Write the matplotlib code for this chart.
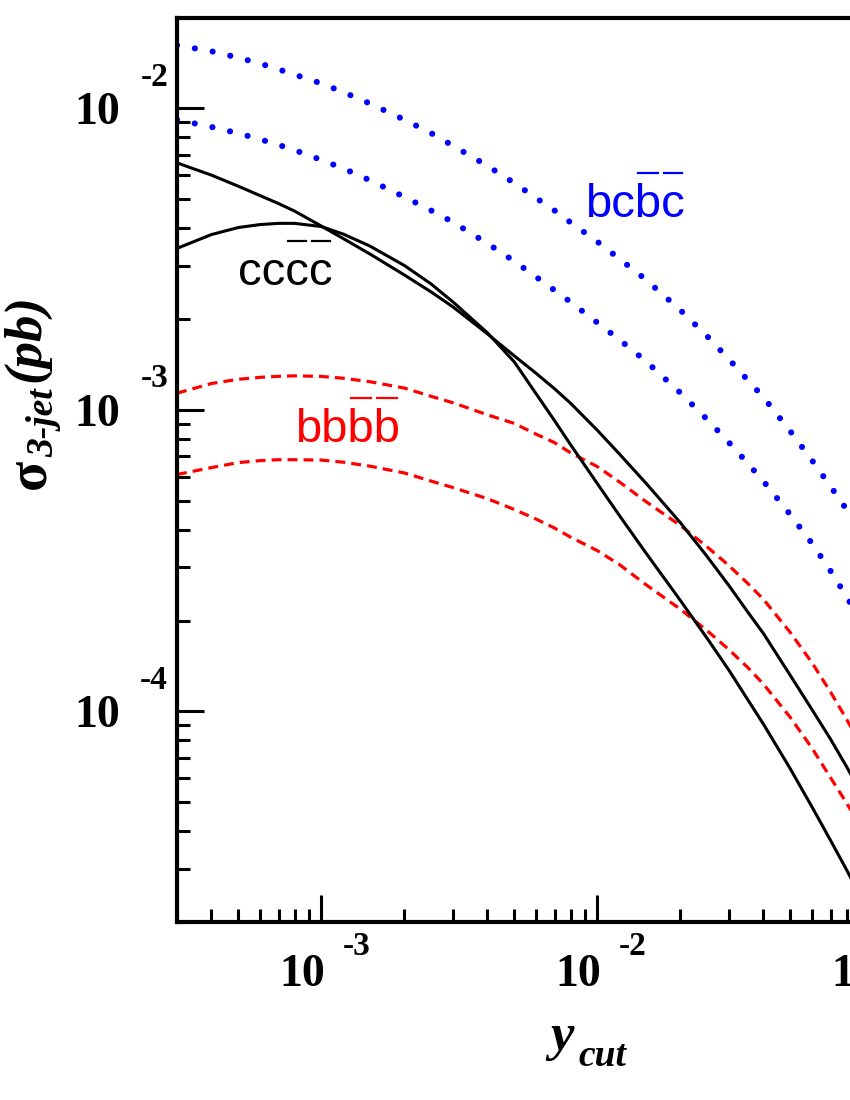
import matplotlib
matplotlib.use("Agg")
import matplotlib.pyplot as plt
from matplotlib.lines import Line2D
from matplotlib.ticker import LogLocator, NullFormatter

y_cut = [3e-4, 4e-4, 5e-4, 6e-4, 7e-4, 8e-4, 1e-3, 1.2e-3, 1.5e-3, 2e-3, 2.5e-3,
         3e-3, 4e-3, 5e-3, 6e-3, 7e-3, 8e-3, 1e-2, 1.2e-2, 1.5e-2, 2e-2, 2.5e-2,
         3e-2, 3.5e-2, 4e-2, 5e-2, 6e-2, 7e-2, 8e-2, 9e-2, 1e-1]

# sigma_3-jet (pb)
bcbc_hi = [0.01618, 0.01545, 0.01472, 0.01407, 0.01346, 0.01293, 0.01209, 0.01131,
           0.01037, 0.00916, 0.00827, 0.00751, 0.00644, 0.00565, 0.005039, 0.00458,
           0.004181, 0.00361, 0.003172, 0.00270, 0.00214, 0.001754, 0.00147, 0.001257,
           0.00110, 0.000849, 0.000679, 0.000557, 0.000467, 0.000394, 0.000336]
bcbc_lo = [0.00916, 0.00867, 0.00826, 0.00789, 0.00756, 0.007264, 0.00674, 0.006318,
           0.00577, 0.00508, 0.004581, 0.00419, 0.00356, 0.00311, 0.002758, 0.00249,
           0.002277, 0.001945, 0.001710, 0.001449, 0.001138, 0.000929, 0.000778, 0.000666,
           0.000579, 0.000449, 0.000360, 0.000292, 0.000240, 0.0002001, 0.000169]
cccc_a = [0.00659, 0.00600, 0.005515, 0.005132, 0.004829, 0.004560, 0.004067, 0.003698,
          0.003286, 0.002799, 0.002459, 0.002193, 0.001785, 0.001510, 0.001321, 0.001174,
          0.001051, 0.000855, 0.000715, 0.000571, 0.000422, 0.000326, 0.000261, 0.000214,
          0.000181, 0.0001316, 0.0001012, 0.0000808, 0.0000655, 0.0000539, 0.0000452]
cccc_b = [0.00343, 0.003812, 0.004021, 0.004114, 0.004152, 0.004152, 0.004052, 0.003827,
          0.003491, 0.003009, 0.002613, 0.002278, 0.001799, 0.001442, 0.001130, 0.000920,
          0.000766, 0.000569, 0.000447, 0.000335, 0.000233, 0.0001745, 0.0001367, 0.0001096,
          0.0000906, 0.0000645, 0.0000481, 0.0000373, 0.0000298, 0.0000242, 0.0000202]
bbbb_hi = [0.001135, 0.001222, 0.001262, 0.001281, 0.001291, 0.001296, 0.001290, 0.001272,
           0.001239, 0.001180, 0.001108, 0.001055, 0.000962, 0.000901, 0.000830, 0.000778,
           0.000720, 0.000648, 0.000577, 0.000496, 0.000413, 0.000351, 0.000304, 0.000266,
           0.000235, 0.0001826, 0.0001447, 0.0001158, 0.0000941, 0.0000777, 0.0000653]
bbbb_lo = [0.000610, 0.000643, 0.000668, 0.000678, 0.000683, 0.000683, 0.000681, 0.000670,
           0.000650, 0.000617, 0.000580, 0.000552, 0.000507, 0.000467, 0.000434, 0.000405,
           0.000378, 0.000341, 0.000307, 0.000263, 0.000218, 0.000185, 0.000160, 0.000140,
           0.000123, 0.0000955, 0.0000754, 0.0000602, 0.0000496, 0.0000416, 0.0000355]

x_decades = [-3, -2, -1]
y_decades = [-4, -3, -2]

SERIF = 'Liberation Serif'
SANS = 'Liberation Sans'
PX = 0.72  # points per pixel at dpi 100
W, H = 850.0, 1100.0


def fig_xy(px, py):
    return px / W, 1 - py / H


fig = plt.figure(figsize=(8.5, 11), dpi=100)
# right part of the frame runs off the page, as in the original
ax = fig.add_axes([177 / W, 1 - 922 / H, 828 / W, 904.5 / H])
ax.set_xscale('log')
ax.set_yscale('log')

# curves
dots = dict(color='#0000ff', lw=4.4, linestyle=(0, (0.01, 2.95)), dash_capstyle='round')
dashes = dict(color='#ff0000', lw=2.3, linestyle=(0, (3.1, 1.9)))
solid = dict(color='black', lw=2.2)
ax.plot(y_cut, bcbc_hi, **dots)
ax.plot(y_cut, bcbc_lo, **dots)
ax.plot(y_cut, bbbb_hi, **dashes)
ax.plot(y_cut, bbbb_lo, **dashes)
ax.plot(y_cut, cccc_a, **solid)
ax.plot(y_cut, cccc_b, **solid)

ax.set_xlim(3e-4, 0.3)
ax.set_ylim(2e-5, 2e-2)

for s in ax.spines.values():
    s.set_linewidth(3.0)
ax.xaxis.set_minor_locator(LogLocator(base=10, subs=range(2, 10)))
ax.yaxis.set_minor_locator(LogLocator(base=10, subs=range(2, 10)))
for a in (ax.xaxis, ax.yaxis):
    a.set_major_formatter(NullFormatter())
    a.set_minor_formatter(NullFormatter())
ax.tick_params(which='major', direction='in', length=27 * PX, width=2.2)
ax.tick_params(which='minor', direction='in', length=13 * PX, width=2.2)

# tick labels written as 10 with a raised exponent
big = dict(fontsize=33, fontweight='bold', family=SERIF, va='baseline',
           textcoords='offset points')
small = dict(fontsize=24, fontweight='bold', family=SERIF, va='baseline',
             textcoords='offset points')
for e in x_decades:
    ax.annotate('10', xy=(10.0 ** e, 0), xycoords=('data', 'axes fraction'),
                xytext=(4 * PX, -64 * PX), ha='right', **big)
    ax.annotate('-%d' % -e, xy=(10.0 ** e, 0), xycoords=('data', 'axes fraction'),
                xytext=(21 * PX, -33 * PX), ha='left', **small)
for e in y_decades:
    ax.annotate('10', xy=(0, 10.0 ** e), xycoords=('axes fraction', 'data'),
                xytext=(-57 * PX, -16 * PX), ha='right', **big)
    ax.annotate('-%d' % -e, xy=(0, 10.0 ** e), xycoords=('axes fraction', 'data'),
                xytext=(-9 * PX, 22.5 * PX), ha='right', **small)

# axis titles
rot = dict(rotation=90, rotation_mode='anchor', ha='left', va='baseline', family=SERIF)
fig.text(*fig_xy(44, 489), '\u03c3', fontsize=40, fontweight='bold', **rot)
fig.text(*fig_xy(53, 457), '3-jet', fontsize=27, fontweight='bold', style='italic', **rot)
fig.text(*fig_xy(39, 382), '(pb)', fontsize=38, fontweight='bold', style='italic', **rot)

fig.text(*fig_xy(550, 1050), 'y', fontsize=38, fontweight='bold', style='italic',
         ha='left', va='baseline', family=SERIF)
fig.text(*fig_xy(578, 1066), 'cut', fontsize=27, fontweight='bold', style='italic',
         ha='left', va='baseline', family=SERIF)

# curve labels, the last two quarks carry a bar each
renderer = fig.canvas.get_renderer()


def quark_label(px, py, s, color):
    t = fig.text(*fig_xy(px, py), s, fontsize=34, family=SANS, color=color,
                 ha='left', va='baseline')
    prop = t.get_fontproperties()
    for i in (2, 3):
        w0 = renderer.get_text_width_height_descent(s[:i], prop, ismath=False)[0]
        w1 = renderer.get_text_width_height_descent(s[:i + 1], prop, ismath=False)[0]
        x0, x1 = px + w0 + 3, px + w1 - 3
        bar_y = py - 44
        fig.add_artist(Line2D([x0 / W, x1 / W], [1 - bar_y / H, 1 - bar_y / H],
                              transform=fig.transFigure, color=color, lw=1.6))


quark_label(238, 285, 'cccc', 'black')
quark_label(585, 217, 'bcbc', '#0000ff')
quark_label(295, 442, 'bbbb', '#ff0000')

fig.savefig('out.png', dpi=100)
